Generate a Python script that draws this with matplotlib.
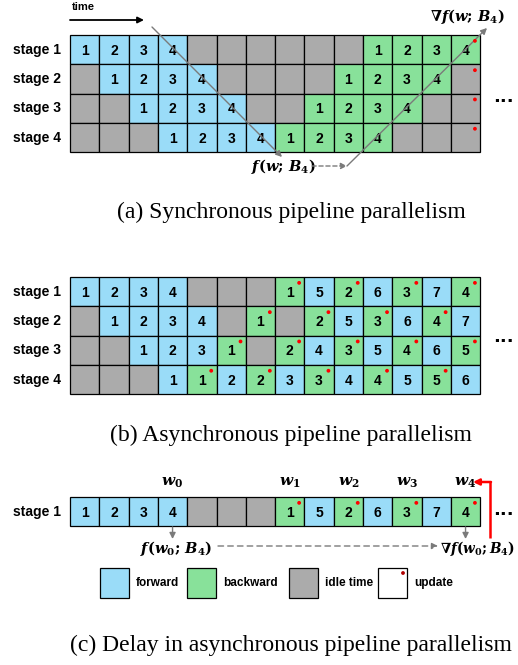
import matplotlib.pyplot as plt
from matplotlib.patches import Rectangle, Circle

# cell codes: F = forward, B = backward, - = idle, * = update marker
stages = ['stage 1', 'stage 2', 'stage 3', 'stage 4']
sync_rows = [
    'F1 F2 F3 F4 - - - - - - B1 B2 B3 B4*',
    '- F1 F2 F3 F4 - - - - B1 B2 B3 B4 -*',
    '- - F1 F2 F3 F4 - - B1 B2 B3 B4 - -*',
    '- - - F1 F2 F3 F4 B1 B2 B3 B4 - - -*',
]
async_rows = [
    'F1 F2 F3 F4 - - - B1* F5 B2* F6 B3* F7 B4*',
    '- F1 F2 F3 F4 - B1* - B2* F5 B3* F6 B4* F7',
    '- - F1 F2 F3 B1* - B2* F4 B3* F5 B4* F6 B5*',
    '- - - F1 B1* F2 B2* F3 B3* F4 B4* F5 B5* F6',
]
delay_row = ['F1 F2 F3 F4 - - - B1* F5 B2* F6 B3* F7 B4*']
weight_cols = [3, 7, 9, 11, 13]
weight_labels = [r'$\mathbfit{w}_\mathbf{0}$', r'$\mathbfit{w}_\mathbf{1}$',
                 r'$\mathbfit{w}_\mathbf{2}$', r'$\mathbfit{w}_\mathbf{3}$',
                 r'$\mathbfit{w}_\mathbf{4}$']
legend_labels = ['forward', 'backward', 'idle time', 'update']

captions = ['(a) Synchronous pipeline parallelism',
            '(b) Asynchronous pipeline parallelism',
            '(c) Delay in asynchronous pipeline parallelism']

plt.rcParams['mathtext.fontset'] = 'dejavuserif'

colors = {'F': '#9adcf8', 'B': '#88e19a', '-': '#ababab', 'U': 'white'}
X0, CW = 70, 29.3
GRAY = '#7a7a7a'

fig = plt.figure(figsize=(5.18, 6.65), dpi=100)
ax = fig.add_axes([0, 0, 1, 1])
ax.set_xlim(0, 518)
ax.set_ylim(665, 0)
ax.axis('off')


def draw_grid(rows, top, labels):
    for r, row in enumerate(rows):
        y = top + r * CW
        ax.text(61, y + CW / 2, labels[r], ha='right', va='center',
                fontsize=10, fontweight='bold', family='Liberation Sans')
        for c, tok in enumerate(row.split()):
            x = X0 + c * CW
            kind = tok[0]
            ax.add_patch(Rectangle((x, y), CW, CW, fc=colors[kind],
                                   ec='black', lw=0.9))
            num = tok[1:].rstrip('*')
            if num:
                ax.text(x + CW / 2, y + CW / 2 + 1, num, ha='center', va='center',
                        fontsize=10, fontweight='bold', family='Liberation Sans')
            if tok.endswith('*'):
                ax.add_patch(Circle((x + CW * 0.82, y + CW * 0.2), 1.9,
                                    fc='red', ec='none', zorder=5))


def arrow(p0, p1, color=GRAY, ls='-', lw=1.0):
    ax.annotate('', xy=p1, xytext=p0,
                arrowprops=dict(arrowstyle='-|>', color=color, lw=lw, ls=ls,
                                mutation_scale=9, shrinkA=0, shrinkB=0))


def mlabel(x, y, s, ha='center', size=10.5):
    ax.text(x, y, s, ha=ha, va='center', fontsize=size)


# (a) synchronous
draw_grid(sync_rows, 35, stages)
ax.text(72, 7, 'time', ha='left', va='center', fontsize=8, fontweight='bold',
        family='Liberation Sans')
arrow((70, 20), (144, 20), color='black', lw=1.3)
arrow((152, 27), (282, 157))
mlabel(283, 166, r'$\mathbfit{f}\mathbf{(}\mathbfit{w}\mathbf{;\,}\mathbfit{B}_\mathbf{4}\mathbf{)}$')
arrow((312, 166), (347, 166), ls=(0, (3, 2)))
arrow((347, 166), (487, 28))
mlabel(467, 17, r'$\mathbf{\nabla}\mathbfit{f}\mathbf{(}\mathbfit{w}\mathbf{;\,}\mathbfit{B}_\mathbf{4}\mathbf{)}$')
ax.text(503, 97, '...', ha='center', va='center', fontsize=13, fontweight='bold')

# (b) asynchronous
draw_grid(async_rows, 277, stages)
ax.text(503, 337, '...', ha='center', va='center', fontsize=13, fontweight='bold')

# (c) delay
draw_grid(delay_row, 497, stages[:1])
for c, lab in zip(weight_cols, weight_labels):
    ax.text(X0 + (c + 0.5) * CW, 483, lab, ha='center', va='center', fontsize=11)
ax.text(503, 510, '...', ha='center', va='center', fontsize=13, fontweight='bold')
xa = X0 + 3.5 * CW
xb = X0 + 13.5 * CW
arrow((xa, 527), (xa, 539))
arrow((xb, 527), (xb, 539))
mlabel(176, 548, r'$\mathbfit{f}\mathbf{(}\mathbfit{w}_\mathbf{0}\mathbf{;\,}\mathbfit{B}_\mathbf{4}\mathbf{)}$')
arrow((218, 546), (438, 546), ls=(0, (4, 3)))
mlabel(515, 548, r'$\mathbf{\nabla}\mathbfit{f}\mathbf{(}\mathbfit{w}_\mathbf{0}\mathbf{;}\mathbfit{B}_\mathbf{4}\mathbf{)}$',
       ha='right', size=9.8)
ax.plot([490, 490], [538, 482], color='red', lw=1.8, solid_capstyle='butt')
arrow((491, 482), (473, 482), color='red', lw=1.8)

# legend
legend_x = [100, 187, 289, 378]
for lx, lab, key in zip(legend_x, legend_labels, ['F', 'B', '-', 'U']):
    ax.add_patch(Rectangle((lx, 568), 29, 30, fc=colors[key], ec='black', lw=0.9))
    if key == 'U':
        ax.add_patch(Circle((lx + 25, 573), 1.9, fc='#b00000', ec='none'))
    ax.text(lx + 36, 583, lab, ha='left', va='center', fontsize=8.5,
            fontweight='bold', family='Liberation Sans')

for y, cap in zip([212, 435, 645], captions):
    ax.text(291, y, cap, ha='center', va='center', fontsize=17,
            family='Liberation Serif')

fig.savefig('out.png', dpi=100)
